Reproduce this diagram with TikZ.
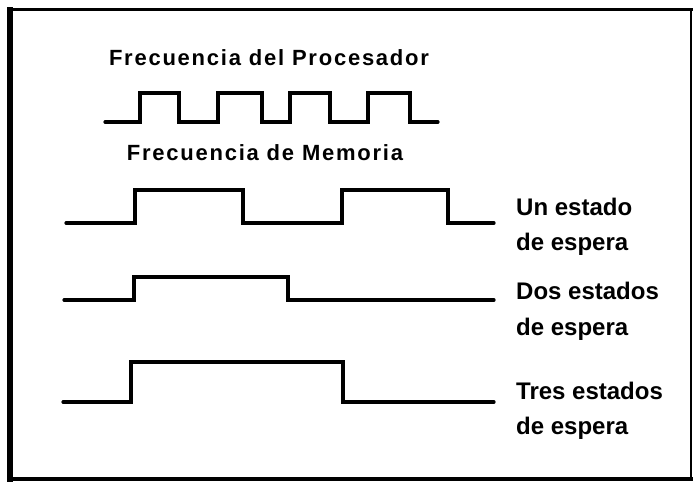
\documentclass[tikz,border=0pt]{standalone}
\usepackage{fontspec}
\setmainfont{Liberation Sans}
\newfontfamily\ttlfont[LetterSpace=8]{Liberation Sans}
\newfontfamily\lblfont{Liberation Sans}
\begin{document}
\begin{tikzpicture}[x=1pt,y=-1pt,
  wave/.style={line width=3.2pt,line cap=round,line join=miter},
  ttl/.style={font=\ttlfont\bfseries\fontsize{22}{22}\selectfont,inner sep=0pt,text height=16pt,text depth=0pt},
  lbl/.style={font=\lblfont\bfseries\fontsize{24}{24}\selectfont,inner sep=0pt,text height=17pt,text depth=0pt},
  frameline/.style={line cap=rect}]
\useasboundingbox (0,0) rectangle (694,484);
% frame
\draw[frameline,line width=6pt] (10,10) -- (10,479);
\draw[frameline,line width=3pt] (10,10) -- (691,10);
\draw[frameline,line width=4pt] (10,479) -- (691,479);
\draw[frameline,line width=2pt] (691,10) -- (691,479);
% titles
\node[ttl] (tproc) at (269,58) {Frecuencia del Procesador};
\node[ttl] (tmem) at (265,153) {Frecuencia de Memoria};
% processor clock
\draw[wave] (105,122) -- (140,122) -- (140,93) -- (179,93) -- (179,122) -- (218,122) -- (218,93) -- (262,93) -- (262,122)
  -- (290,122) -- (290,93) -- (330,93) -- (330,122) -- (368,122) -- (368,93) -- (410,93) -- (410,122) -- (438,122);
% one wait state
\draw[wave] (66,223) -- (135,223) -- (135,190) -- (243,190) -- (243,223) -- (342,223) -- (342,190) -- (448,190) -- (448,223) -- (494,223);
% two wait states
\draw[wave] (64,300) -- (134,300) -- (134,277) -- (288,277) -- (288,300) -- (494,300);
% three wait states
\draw[wave] (63,402) -- (131,402) -- (131,362) -- (343,362) -- (343,402) -- (494,402);
% labels
\node[lbl,anchor=west] (l1a) at (516,207) {Un estado};
\node[lbl,anchor=west] (l1b) at (516,242) {de espera};
\node[lbl,anchor=west] (l2a) at (516,291) {Dos estados};
\node[lbl,anchor=west] (l2b) at (516,327) {de espera};
\node[lbl,anchor=west] (l3a) at (516,391) {Tres estados};
\node[lbl,anchor=west] (l3b) at (516,426) {de espera};
\end{tikzpicture}
\end{document}
